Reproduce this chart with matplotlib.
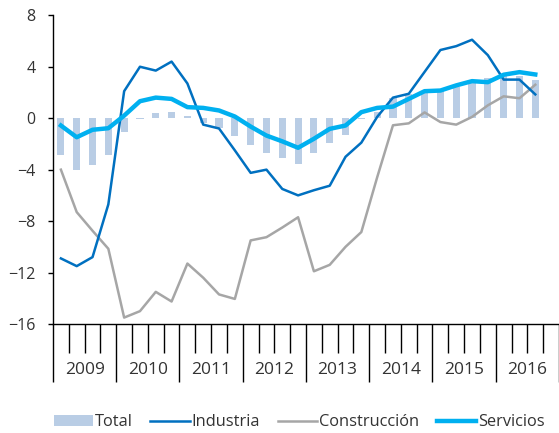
import matplotlib
matplotlib.use("Agg")
import matplotlib.pyplot as plt
import matplotlib.transforms as mtransforms
import numpy as np

plt.rcParams['font.family'] = ['Open Sans', 'DejaVu Sans']

# trimestres 2009T1 .. 2016T3
years = ["2009", "2010", "2011", "2012", "2013", "2014", "2015", "2016"]

total = [-2.9, -4.0, -3.6, -2.9, -1.05, -0.1, 0.4, 0.5,
         0.2, -0.4, -0.8, -1.4, -2.1, -2.7, -3.1, -3.55,
         -2.7, -1.9, -1.3, -0.1, 0.5, 1.6, 1.9, 2.1,
         2.1, 2.4, 3.0, 3.1, 3.3, 3.3, 3.0]

industria = [-10.9, -11.5, -10.8, -6.7, 2.1, 4.0, 3.7, 4.4,
             2.7, -0.5, -0.8, -2.5, -4.25, -4.0, -5.5, -6.0,
             -5.6, -5.25, -3.0, -1.9, 0.1, 1.6, 1.9, 3.6,
             5.3, 5.6, 6.1, 4.9, 3.0, 3.0, 1.85]

construccion = [-4.0, -7.3, -8.75, -10.15, -15.5, -15.0, -13.5, -14.25,
                -11.3, -12.4, -13.7, -14.05, -9.5, -9.25, -8.5, -7.7,
                -11.9, -11.4, -10.0, -8.85, -4.6, -0.55, -0.4, 0.45,
                -0.3, -0.5, 0.1, 1.0, 1.7, 1.55, 2.6]

servicios = [-0.57, -1.48, -0.9, -0.78, 0.2, 1.32, 1.6, 1.5,
             0.86, 0.8, 0.6, 0.13, -0.65, -1.35, -1.8, -2.3,
             -1.6, -0.83, -0.57, 0.47, 0.8, 0.9, 1.5, 2.1,
             2.15, 2.55, 2.88, 2.8, 3.38, 3.58, 3.4]

x = np.arange(len(total))

fig = plt.figure(figsize=(5.59, 4.33), dpi=100)
ax = fig.add_axes([0.0948, 0.2517, 0.9052, 0.713])

ax.bar(x, total, width=0.45, color='#B9CDE5', label='Total', zorder=1)
ax.plot(x, construccion, color='#A6A6A6', lw=1.8, label='Construcción', zorder=2)
ax.plot(x, industria, color='#0070C0', lw=1.8, label='Industria', zorder=3)
ax.plot(x, servicios, color='#00B0F0', lw=3.2, label='Servicios', zorder=4)

ax.set_xlim(-0.5, 31.3)
ax.set_ylim(-16, 8)
ax.set_yticks(range(-16, 9, 4))
ax.tick_params(axis='y', direction='out', length=3.6, width=1, pad=9,
               labelsize=11.5, labelcolor='#333333')

for s in ['top', 'right']:
    ax.spines[s].set_visible(False)
for s in ['left', 'bottom']:
    ax.spines[s].set_color('black')
    ax.spines[s].set_linewidth(1)

# separadores de año (largos) y trimestres (cortos)
ax.set_xticks(np.arange(-0.5, 32, 4))
ax.set_xticks([v for v in np.arange(-0.5, 32, 1) if (v + 0.5) % 4 != 0], minor=True)
ax.tick_params(axis='x', which='major', length=41.5, width=1, labelbottom=False)
ax.tick_params(axis='x', which='minor', length=20.7, width=1)

trans = mtransforms.blended_transform_factory(ax.transData, ax.transAxes)
for k, yr in enumerate(years):
    ax.text(4 * k + 1.5, -0.149, yr, transform=trans, ha='center', va='center',
            fontsize=12.5, color='#333333')

h, l = ax.get_legend_handles_labels()
order = ['Total', 'Industria', 'Construcción', 'Servicios']
hd = dict(zip(l, h))
fig.legend([hd[o] for o in order], order, loc='lower center',
           bbox_to_anchor=(0.535, -0.028), ncol=4, frameon=False,
           fontsize=11.8, handlelength=2.4, handletextpad=0.1,
           columnspacing=1.1, labelcolor='#333333')

fig.savefig('out.png', dpi=100)
